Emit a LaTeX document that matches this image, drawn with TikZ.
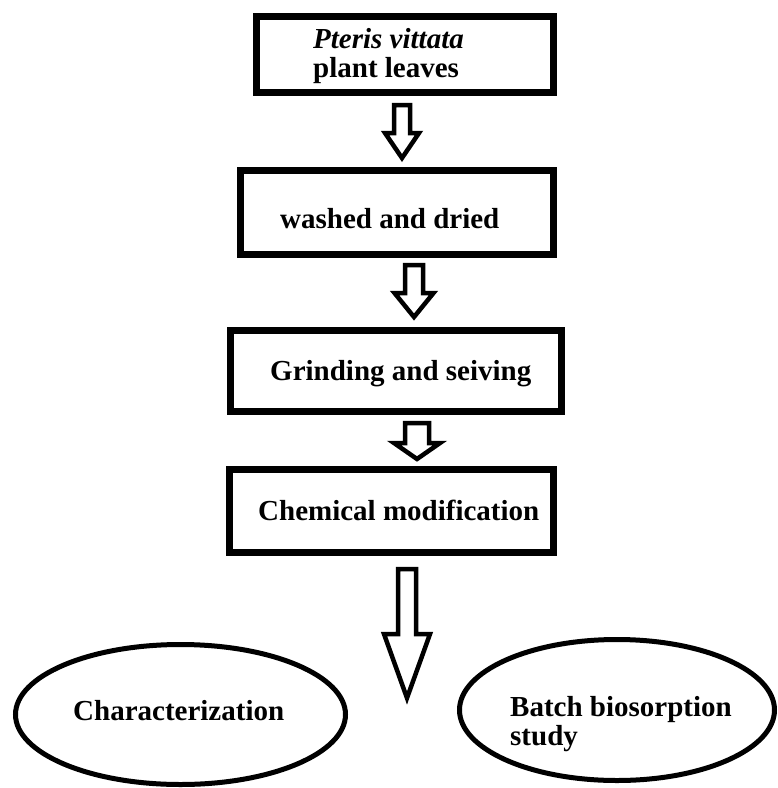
\documentclass[tikz,border=0pt]{standalone}
\usepackage{fontspec}
\setmainfont{Liberation Serif}
\usetikzlibrary{shapes}

\begin{document}
\begin{tikzpicture}[x=1pt,y=-1pt,
        stepbox/.style={draw,rectangle,line width=7pt,inner sep=0pt},
        steptext/.style={anchor=base west,inner sep=0pt,align=left,
                         font=\bfseries\fontsize{29}{29}\selectfont},
        result/.style={draw,ellipse,line width=5pt,inner sep=0pt},
        hollow/.style={draw,fill=white,line width=4.5pt,line join=miter}]
        \useasboundingbox (0,0) rectangle (778,788);

        % process boxes
        \node at (405,54.5) [stepbox,minimum width=297,minimum height=76] (leaves) {};
        \node at (397,212.5) [stepbox,minimum width=313,minimum height=84] (wash) {};
        \node at (396,371) [stepbox,minimum width=331,minimum height=81] (grind) {};
        \node at (391.5,511) [stepbox,minimum width=324,minimum height=83] (modify) {};

        % base of a two-line text is its last line
        \node at (313,77) [steptext] (leavestext) {\textit{Pteris vittata}\\plant leaves};
        \node at (280,228) [steptext] (washtext) {washed and dried};
        \node at (270,380) [steptext] (grindtext) {Grinding and seiving};
        \node at (258,520) [steptext] (modifytext) {Chemical modification};

        % outcomes
        \node at (180.5,714.5) [result,minimum width=330,minimum height=140] (charac) {};
        \node at (617,710) [result,minimum width=315,minimum height=141] (batch) {};
        \node at (73,720) [steptext] (charactext) {Characterization};
        \node at (510,745) [steptext] (batchtext) {Batch biosorption\\study};

        % hollow arrows
        \draw[hollow] (394,105) -- (410,105) -- (410,133) -- (419,133) -- (402,158)
                      -- (385,133) -- (394,133) -- cycle;
        \draw[hollow] (405,265) -- (423,265) -- (423,293) -- (433.5,293) -- (414,317)
                      -- (394.5,293) -- (405,293) -- cycle;
        \draw[hollow] (405,423) -- (429,423) -- (429,443) -- (440,443) -- (417,459)
                      -- (394,443) -- (405,443) -- cycle;
        \draw[hollow] (398,569) -- (416,569) -- (416,634) -- (430,634) -- (407,698)
                      -- (384,634) -- (398,634) -- cycle;
    \end{tikzpicture}
\end{document}
